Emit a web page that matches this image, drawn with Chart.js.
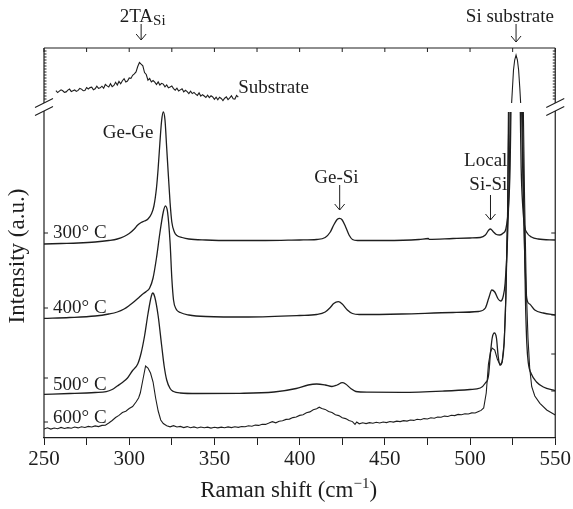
<!DOCTYPE html>
<html>
<head>
<meta charset="utf-8">
<script src="https://cdn.jsdelivr.net/npm/chart.js@4/dist/chart.umd.min.js"></script>
<style>
  body { margin: 0; background: #ffffff; }
  canvas { display: block; }
</style>
</head>
<body>
<canvas id="raman" width="573" height="509"></canvas>
<script>
  // Raman spectra of Ge on Si after annealing, offset vertically (arbitrary units)
  const shift300 = [250,260,270,280,288,293,297,300,303,305,307,309,311,313,314.5,316,317,318,319,320,321,322,323,324,325,326.5,328,331,335,345,360,380,400,410,415,418,420,422,423.5,425,427,429,431,434,450,470,475.5,476,490,500,506,509,511,512,513.5,515.5,517.5,519.5,521,522.5,523.5,524,527,529.5,530,531,532,533.5,536,540,550];
  const int300 = [194,194.5,195,196,197.5,199,201.5,204.5,209,213,215.5,217,219,224,232,250,270,295,317,326,318,290,262,235,216,206,202.5,200.5,199,198,197.5,197.5,198,198.5,200.5,206,213,218.5,219.7,218,211,203,198.5,197.5,197.5,198.5,199.5,198.7,199.5,200,200.5,203,208,209,206.5,203.5,203,205,209,230,270,326,null,326,270,230,212,205,201,199,198];

  const shift400 = [250,265,280,288,293,297,300,303,306,308,310,312,314,316,318,320,321.2,322.5,324,325,326,327.5,330,335,345,370,400,410,415,418,420,422.7,425,428,431,435,460,490,505,509,511,512.8,514.5,516.5,518,519.5,520.6,522,523,523.6,527,530.3,531,532,533.2,535,538,543,550];
  const int400 = [119.7,120.5,122,124,126,129,132.5,136.5,141,144,146.5,150,160,180,205,226,232,226,195,160,138,129,125.5,123,121.5,121,122.5,123.5,126,130.5,134.5,136.3,134,128,124.5,123.5,124,125.5,126.5,130,140,148,146,139,137,142,155,200,260,326,null,326,260,190,140,134,128,125,123];

  const shift500 = [250,265,280,286.5,290,293,296,299,302,305,307,309,311,313,313.8,315,317,319,320.5,322,324,326,330,340,365,385,398,405,410,415,419,422,425,427,430,433,440,460,485,500,506,509,510.8,512,513,514.3,515.5,516.5,517.6,518.8,520,521,522,522.8,527,530.8,531.5,532.5,533.3,534.2,536,539,543,550];
  const int500 = [43.7,44.5,45.5,46.3,48.5,52,55.5,60,67.5,74,85,102,124,142,145,141,122,93,72,58,49.5,46.5,45,44.5,44.7,46,49.5,53,54,53,51.5,53,55.3,54,49.5,46.5,45.8,45.7,47,48.5,50,55,62,85,100,105,100,82,73,76,95,140,220,326,null,326,240,140,95,75,64,56,51,47.3];

  const shift600 = [250,252,254,256,258,260,262,264,266,268,270,272,274,276,278,280,282,284,286,288,290,292,294,296,298,300,302,304,305.5,306.5,308,309.6,311,312.5,314,315.5,317,318.5,320,322,324,326,328,330,332,334,336,338,340,342,344,346,348,350,352,354,356,358,360,362,364,366,368,370,372,374,376,378,380,382,384,386,388,390,392,394,396,398,400,402,404,406,408,410,411.5,413,415,417,419,421,423,425,427,429,431,432.5,433.5,435,437,439,441,443,445,447,449,451,453,455,457,459,461,463,465,467,469,471,473,475,477,479,481,483,485,487,489,491,493,495,497,499,501,503,505,506.5,508,509.5,510.8,512,513,514.5,516,517.6,518.8,520,521,522,522.5,527,531.3,532,533,534,535,536.2,538,541,545,550];
  const int600 = [9.0,10.2,8.9,10.0,9.3,10.6,9.5,10.4,9.8,11.0,10.1,11.2,10.5,11.6,11.0,12.1,11.4,12.6,12.8,15.0,17.5,20.5,22.6,25.5,26.8,29.5,31.5,36,40,45,58,72,70,65,56,40,27,18,14.5,12.3,11.2,12.3,11.0,11.6,10.4,11.4,10.2,11.1,10.0,11.0,10.2,10.9,9.9,10.8,10.1,10.9,10.2,11.1,10.4,11.2,10.6,11.5,11.2,12.2,11.8,12.9,12.6,13.8,13.6,14.9,16.3,15.2,16.8,17.2,18.6,18.9,20.4,21.0,22.6,23.2,25.2,26.1,28.3,29.2,30.8,29.4,28.6,26.5,25.4,23.2,22.4,20.2,19.4,17.6,16.4,13.6,16.0,14.2,15.2,14.4,15.4,14.8,15.8,15.0,16.0,15.4,16.5,15.9,16.9,16.4,17.4,16.9,18.0,17.6,18.7,18.3,19.4,19.0,20.2,19.8,21.0,20.7,21.9,21.5,22.7,22.4,23.6,23.2,24.3,24.0,25.1,25.0,26.5,27.6,30,45,74,86,90,88,79,73,76,95,140,220,326,null,326,240,150,100,70,51.3,42,34.7,28,23];

  const shiftSub = [257,258,259,260,261,262,263,264,265,266,267,268,269,270,271,272,273,274,275,276,277,278,279,280,281,282,283,284,285,286,287,288,289,290,291,292,293,294,295,296,297,298,299,300,301,302,303,304,305,306,307,308,309,310,311,312,313,314,315,316,317,318,319,320,321,322,323,324,325,326,327,328,329,330,331,332,333,334,335,336,337,338,339,340,341,342,343,344,345,346,347,348,349,350,351,352,353,354,355,356,357,358,359,360,361,362,363,364,450,524.4,524.9,525.5,526.2,527,527.8,528.5,529.2,529.7];
  const intSub = [347.3,345.4,346.8,348.2,347.2,345.6,346.1,347.9,348.9,346.4,347.2,348.0,346.6,347.6,349.6,348.9,347.3,347.5,350.5,349.0,350.4,350.9,348.2,349.2,351.9,349.6,350.2,351.8,349.7,353.5,352.1,351.1,354.3,351.4,352.6,355.7,353.0,356.6,354.2,357.3,359.3,356.1,357.0,360.1,359.6,362.7,364.2,366.0,371.5,375.5,373.8,372.2,365.4,363.5,357.8,359.6,356.0,357.4,355.8,353.5,356.1,353.0,354.7,353.9,351.2,353.1,350.3,351.0,352.0,349.4,347.9,349.9,347.0,348.1,349.2,346.2,347.7,346.4,344.5,346.9,344.4,345.6,343.9,342.6,345.1,341.9,343.3,342.0,340.5,342.8,340.4,342.2,341.0,338.7,340.9,338.3,340.7,339.5,337.4,339.8,341.1,338.4,340.1,342.2,339.2,338.9,342.6,340.8,null,335,350,368,378,383,378,368,350,335];

  const xTicks = [250, 300, 350, 400, 450, 500, 550];
  const tempLabels = ['300° C', '400° C', '500° C', '600° C'];
  const tempLabelY = [200, 125, 48, 15];
  const leftAxisTicks = [205, 130, 60, 16];
  const rightAxisTicks = [205, 123, 84, 47];
  const breakLow = 327;
  const breakHigh = 335;

  const ink = '#1e1e1e';
  const serif = '"Liberation Serif", "DejaVu Serif", serif';

  function toPoints(xs, ys) {
    return xs.map((x, i) => ({ x: x, y: ys[i] }));
  }

  function spectrum(xs, ys, smooth) {
    return {
      data: toPoints(xs, ys),
      borderColor: ink,
      borderWidth: smooth ? 1.3 : 1.1,
      pointRadius: 0,
      tension: 0,
      cubicInterpolationMode: smooth ? 'monotone' : 'default',
      spanGaps: false
    };
  }

  const framePlugin = {
    id: 'frame',
    afterDraw(chart) {
      const ctx = chart.ctx;
      const ca = chart.chartArea;
      const xs = chart.scales.x;
      const ys = chart.scales.y;
      const lo = ys.getPixelForValue(breakLow);
      const hi = ys.getPixelForValue(breakHigh);

      ctx.save();
      ctx.strokeStyle = ink;
      ctx.fillStyle = ink;
      ctx.lineWidth = 1.2;

      // frame with broken left and right axes
      ctx.beginPath();
      [ca.left, ca.right].forEach(x => {
        ctx.moveTo(x, ca.bottom); ctx.lineTo(x, lo);
        ctx.moveTo(x, hi); ctx.lineTo(x, ca.top);
      });
      ctx.moveTo(ca.left, ca.top); ctx.lineTo(ca.right, ca.top);
      ctx.stroke();

      // break marks
      ctx.lineWidth = 1.1;
      ctx.beginPath();
      [ca.left, ca.right].forEach(x => {
        [lo, hi].forEach(y => {
          ctx.moveTo(x - 9, y + 4.5); ctx.lineTo(x + 9, y - 4.5);
        });
      });
      ctx.stroke();

      // inner ticks
      ctx.lineWidth = 1;
      ctx.beginPath();
      xs.ticks.forEach(t => {
        const px = xs.getPixelForValue(t.value);
        ctx.moveTo(px, ca.top); ctx.lineTo(px, ca.top + 4);
      });
      leftAxisTicks.forEach(v => {
        const py = ys.getPixelForValue(v);
        ctx.moveTo(ca.left, py); ctx.lineTo(ca.left + 4, py);
      });
      rightAxisTicks.forEach(v => {
        const py = ys.getPixelForValue(v);
        ctx.moveTo(ca.right, py); ctx.lineTo(ca.right - 4, py);
      });
      for (let py = ca.top + 3; py < hi - 2; py += 3) {
        ctx.moveTo(ca.left, py); ctx.lineTo(ca.left + 2.5, py);
        ctx.moveTo(ca.right, py); ctx.lineTo(ca.right - 2.5, py);
      }
      ctx.stroke();

      const X = v => xs.getPixelForValue(v);
      const Y = v => ys.getPixelForValue(v);

      function arrow(x, y0, y1) {
        const px = X(x), a = Y(y0), b = Y(y1);
        ctx.beginPath();
        ctx.moveTo(px, a); ctx.lineTo(px, b);
        ctx.moveTo(px - 5, b - 6); ctx.lineTo(px, b); ctx.lineTo(px + 5, b - 6);
        ctx.stroke();
      }

      ctx.font = '19px ' + serif;
      ctx.textBaseline = 'alphabetic';

      // 2TA_Si label
      ctx.textAlign = 'left';
      const w2 = ctx.measureText('2TA').width;
      ctx.font = '15px ' + serif;
      const wsi = ctx.measureText('Si').width;
      const left2 = X(307.9) - (w2 + wsi) / 2;
      ctx.font = '19px ' + serif;
      ctx.fillText('2TA', left2, Y(416));
      ctx.font = '15px ' + serif;
      ctx.fillText('Si', left2 + w2, Y(413));
      arrow(307, 414, 398);

      ctx.font = '19px ' + serif;
      ctx.textAlign = 'center';
      ctx.fillText('Si substrate', X(523.4), Y(416));
      arrow(527, 414, 396);

      ctx.fillText('Ge-Ge', X(299.4), Y(300));
      ctx.fillText('Ge-Si', X(421.6), Y(255));
      arrow(423.5, 253, 228);

      ctx.textAlign = 'right';
      ctx.fillText('Local', X(521.9), Y(272));
      ctx.fillText('Si-Si', X(521.9), Y(248));
      arrow(512, 243, 218);

      ctx.textAlign = 'left';
      ctx.fillText('Substrate', X(364), Y(345));
      tempLabels.forEach((t, i) => ctx.fillText(t, X(255.3), Y(tempLabelY[i])));

      // axis titles
      const cx = (ca.left + ca.right) / 2 - 11;
      const base = ca.bottom + 59;
      const main = 'Raman shift (cm';
      ctx.font = '23px ' + serif;
      const wm = ctx.measureText(main).width;
      const wp = ctx.measureText(')').width;
      ctx.font = '15px ' + serif;
      const ws = ctx.measureText('\u22121').width;
      let sx = cx - (wm + ws + wp) / 2;
      ctx.font = '23px ' + serif;
      ctx.fillText(main, sx, base);
      ctx.font = '15px ' + serif;
      ctx.fillText('\u22121', sx + wm, base - 9);
      ctx.font = '23px ' + serif;
      ctx.fillText(')', sx + wm + ws, base);

      ctx.translate(18, (ca.top + ca.bottom) / 2 + 13);
      ctx.rotate(-Math.PI / 2);
      ctx.textAlign = 'center';
      ctx.textBaseline = 'middle';
      ctx.fillText('Intensity (a.u.)', 0, 0);
      ctx.restore();
    }
  };

  new Chart(document.getElementById('raman'), {
    type: 'line',
    data: {
      datasets: [
        spectrum(shiftSub, intSub, false),
        spectrum(shift300, int300, true),
        spectrum(shift400, int400, true),
        spectrum(shift500, int500, true),
        spectrum(shift600, int600, false)
      ]
    },
    options: {
      responsive: false,
      animation: false,
      layout: { padding: { left: 44, right: 16, top: 48, bottom: 0 } },
      plugins: { legend: { display: false }, tooltip: { enabled: false } },
      scales: {
        x: {
          type: 'linear',
          min: 250,
          max: 550,
          ticks: {
            stepSize: 25,
            autoSkip: false,
            maxRotation: 0,
            padding: 2,
            color: ink,
            font: { family: serif, size: 21 },
            callback: v => xTicks.includes(v) ? String(v) : ''
          },
          grid: { drawOnChartArea: false, drawTicks: true, tickLength: 7, color: ink, lineWidth: 1 },
          border: { display: true, color: ink, width: 1.2 },
          afterFit: s => { s.height = 71; }
        },
        y: {
          type: 'linear',
          display: false,
          min: 0,
          max: 390
        }
      }
    },
    plugins: [framePlugin]
  });
</script>
</body>
</html>
